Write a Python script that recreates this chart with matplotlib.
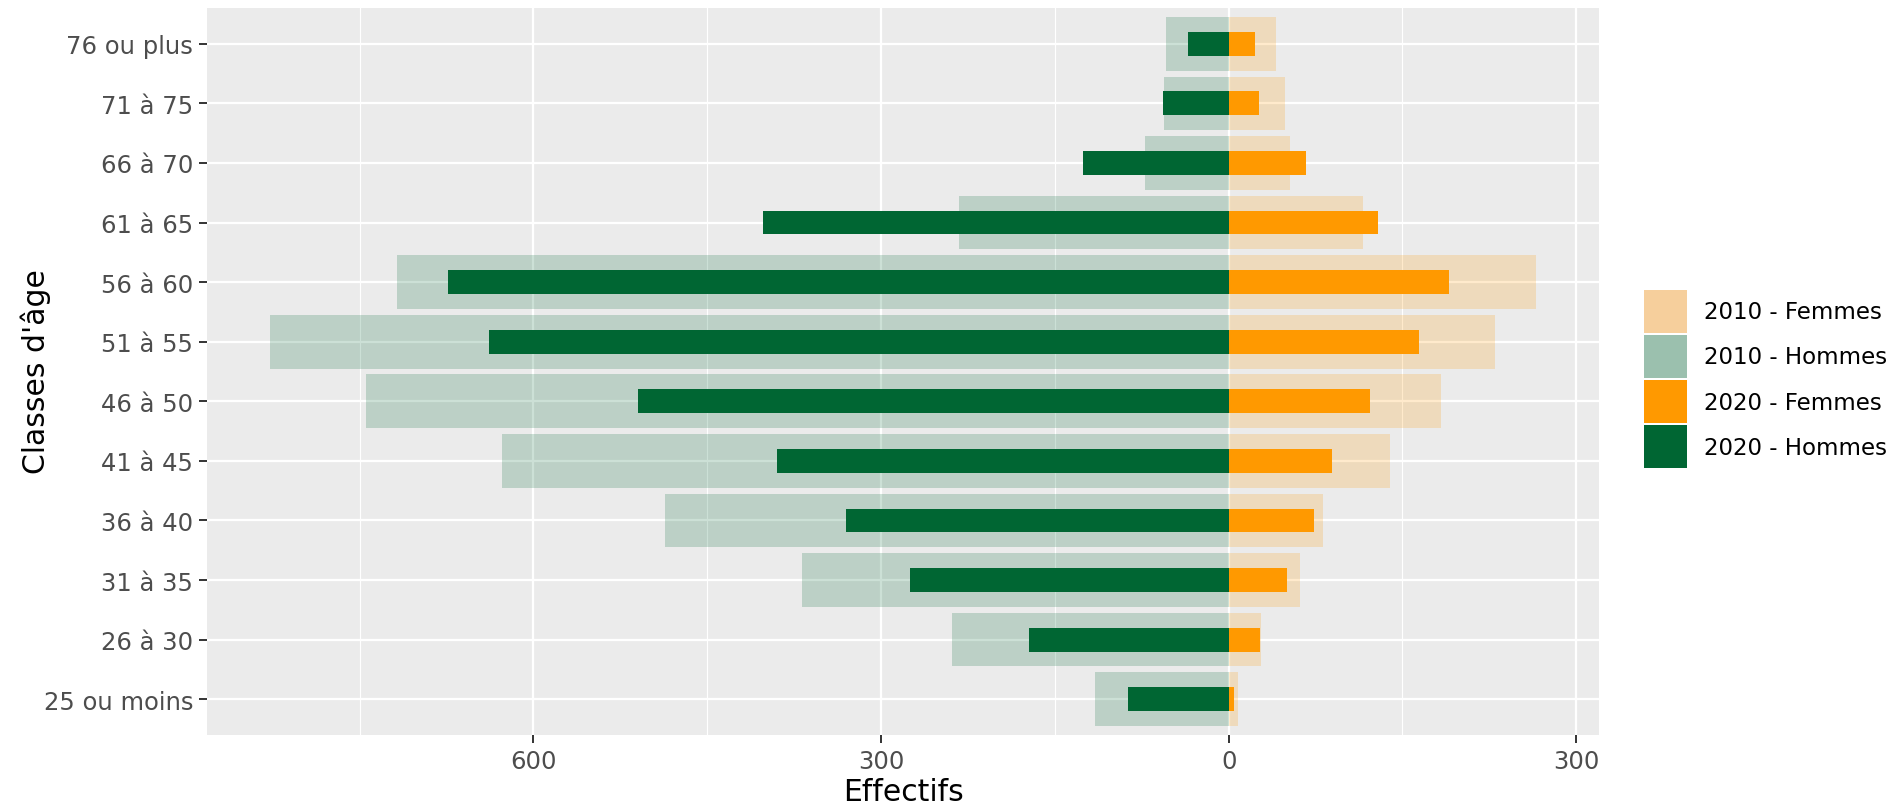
import matplotlib
matplotlib.use("Agg")
import matplotlib.pyplot as plt
from matplotlib.patches import Patch
from matplotlib.ticker import FixedLocator, FuncFormatter
import numpy as np

ages = ["25 ou moins", "26 à 30", "31 à 35", "36 à 40", "41 à 45", "46 à 50",
        "51 à 55", "56 à 60", "61 à 65", "66 à 70", "71 à 75", "76 ou plus"]
hommes_2010 = [115, 239, 368, 486, 627, 744, 827, 718, 233, 72, 56, 54]
hommes_2020 = [87, 172, 275, 330, 390, 510, 638, 674, 402, 126, 57, 35]
femmes_2010 = [8, 28, 62, 81, 139, 183, 230, 265, 116, 53, 49, 41]
femmes_2020 = [5, 27, 50, 74, 89, 122, 164, 190, 129, 67, 26, 23]
legend_labels = ["2010 - Femmes", "2010 - Hommes", "2020 - Femmes", "2020 - Hommes"]
major_ticks = [-600, -300, 0, 300]
minor_ticks = [-750, -450, -150, 150]

ORANGE = "#FF9900"
GREEN = "#006633"

plt.rcParams['font.family'] = ['DejaVu Sans']

fig = plt.figure(figsize=(18.95, 8.04), dpi=100)
ax = fig.add_axes([207/1895, 1-736/804, (1599-207)/1895, (736-9)/804])
ax.set_facecolor("#EBEBEB")
for s in ax.spines.values():
    s.set_visible(False)

y = np.arange(1, len(ages)+1)
ax.barh(y, -np.array(hommes_2010), height=0.9, color=GREEN, alpha=0.2, linewidth=0, zorder=2)
ax.barh(y, np.array(femmes_2010), height=0.9, color=ORANGE, alpha=0.2, linewidth=0, zorder=2)
ax.barh(y, -np.array(hommes_2020), height=0.4, color=GREEN, linewidth=0, zorder=3)
ax.barh(y, np.array(femmes_2020), height=0.4, color=ORANGE, linewidth=0, zorder=3)

lo = -max(max(hommes_2010), max(hommes_2020))
hi = max(max(femmes_2010), max(femmes_2020))
rng = hi - lo
ax.set_xlim(lo - 0.05*rng, hi + 0.05*rng)
ax.set_ylim(0.4, len(ages) + 0.6)

ax.set_yticks(y)
ax.set_yticklabels(ages)
ax.xaxis.set_major_locator(FixedLocator(major_ticks))
ax.xaxis.set_minor_locator(FixedLocator(minor_ticks))
ax.xaxis.set_major_formatter(FuncFormatter(lambda v, p: f"{abs(int(v))}"))

ax.set_axisbelow(True)
ax.grid(which="major", color="white", linewidth=1.65)
ax.grid(which="minor", axis="x", color="white", linewidth=0.8)
ax.tick_params(which="major", length=5.5, width=1.4, color="#333333",
               labelsize=17.5, labelcolor="#4D4D4D", pad=4.5)
ax.tick_params(which="minor", length=0)

fig.text(903/1895, 1-793/804, "Effectifs", ha="center", va="center", fontsize=21.5, color="black")
fig.text(36/1895, 1-372/804, "Classes d'âge", ha="center", va="center", rotation=90,
         fontsize=21.5, color="black")

handles = [Patch(facecolor="#F6CF9C", linewidth=0),
           Patch(facecolor="#9BC0AE", linewidth=0),
           Patch(facecolor=ORANGE, linewidth=0),
           Patch(facecolor=GREEN, linewidth=0)]
fig.legend(handles, legend_labels, loc="center left", bbox_to_anchor=(1644/1895, 1-380/804),
           frameon=False, fontsize=16.5, handlelength=1.88, handleheight=2.5,
           handletextpad=0.72, labelspacing=0.1, borderpad=0, borderaxespad=0)

fig.savefig("out.png", dpi=100)
